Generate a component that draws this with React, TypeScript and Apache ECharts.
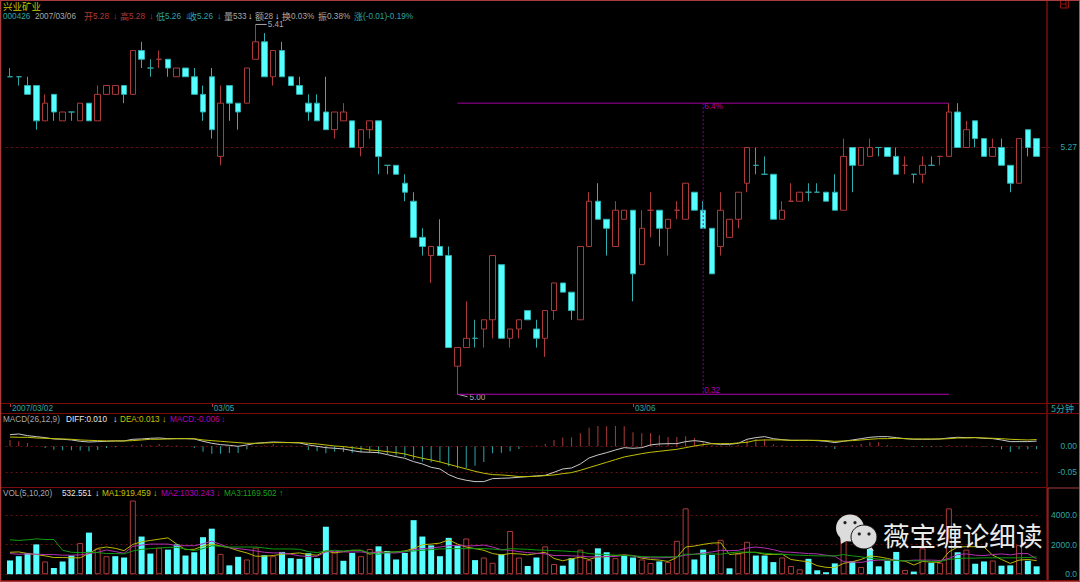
import React, { useEffect, useRef } from "react";
import * as echarts from "echarts";

const opens = [
  5.35,5.35,5.34,5.34,5.30,5.33,5.30,5.31,5.30,5.32,
  5.30,5.33,5.33,5.34,5.33,5.38,5.36,5.37,5.37,5.35,
  5.36,5.35,5.33,5.35,5.26,5.34,5.32,5.32,5.37,5.39,
  5.35,5.38,5.35,5.34,5.32,5.32,5.31,5.29,5.30,5.30,
  5.27,5.29,5.30,5.25,5.25,5.23,5.21,5.17,5.15,5.16,
  5.15,5.03,5.05,5.06,5.07,5.08,5.14,5.06,5.07,5.09,
  5.07,5.06,5.09,5.12,5.11,5.08,5.16,5.21,5.19,5.16,
  5.19,5.20,5.14,5.20,5.20,5.18,5.20,5.19,5.22,5.20,
  5.18,5.16,5.17,5.19,5.23,5.25,5.24,5.24,5.19,5.21,
  5.21,5.22,5.22,5.22,5.22,5.20,5.27,5.25,5.26,5.27,
  5.27,5.26,5.25,5.24,5.24,5.25,5.26,5.26,5.31,5.27,
  5.30,5.28,5.26,5.27,5.25,5.23,5.29,5.28,
];
const closes = [
  5.35,5.35,5.33,5.30,5.32,5.31,5.31,5.31,5.32,5.30,
  5.33,5.34,5.34,5.33,5.38,5.37,5.36,5.37,5.36,5.36,
  5.35,5.33,5.31,5.29,5.32,5.32,5.31,5.36,5.39,5.35,
  5.38,5.35,5.34,5.33,5.31,5.30,5.29,5.31,5.31,5.27,
  5.29,5.30,5.26,5.25,5.24,5.22,5.17,5.16,5.16,5.15,
  5.05,5.05,5.06,5.06,5.08,5.15,5.06,5.07,5.08,5.08,
  5.06,5.09,5.12,5.11,5.09,5.16,5.21,5.19,5.18,5.20,
  5.20,5.13,5.18,5.20,5.18,5.19,5.20,5.23,5.20,5.18,
  5.13,5.20,5.19,5.22,5.27,5.25,5.24,5.19,5.20,5.21,
  5.22,5.22,5.22,5.21,5.20,5.26,5.25,5.27,5.27,5.27,
  5.26,5.24,5.25,5.24,5.25,5.25,5.26,5.31,5.27,5.29,
  5.28,5.26,5.27,5.25,5.23,5.28,5.27,5.26,
];
const lows = [
  5.35,5.34,5.33,5.29,5.30,5.30,5.30,5.30,5.30,5.30,
  5.30,5.33,5.33,5.32,5.33,5.36,5.35,5.36,5.35,5.35,
  5.35,5.33,5.30,5.28,5.25,5.30,5.29,5.32,5.37,5.35,
  5.34,5.35,5.34,5.33,5.30,5.30,5.29,5.28,5.30,5.27,
  5.26,5.28,5.24,5.24,5.24,5.21,5.17,5.15,5.12,5.15,
  5.05,5.00,5.05,5.05,5.05,5.06,5.06,5.05,5.06,5.08,
  5.05,5.04,5.08,5.11,5.08,5.08,5.16,5.19,5.15,5.16,
  5.19,5.10,5.14,5.17,5.16,5.15,5.19,5.19,5.20,5.18,
  5.13,5.15,5.17,5.18,5.22,5.24,5.24,5.19,5.19,5.21,
  5.21,5.21,5.22,5.21,5.20,5.20,5.22,5.25,5.26,5.26,
  5.26,5.24,5.24,5.23,5.23,5.25,5.25,5.26,5.27,5.27,
  5.27,5.26,5.26,5.25,5.22,5.23,5.26,5.26,
];
const highs = [
  5.36,5.35,5.35,5.34,5.33,5.33,5.31,5.31,5.32,5.32,
  5.34,5.34,5.34,5.34,5.38,5.39,5.37,5.38,5.37,5.36,
  5.36,5.36,5.34,5.36,5.34,5.34,5.32,5.36,5.41,5.40,
  5.38,5.39,5.35,5.35,5.33,5.33,5.35,5.31,5.32,5.30,
  5.29,5.30,5.30,5.25,5.25,5.24,5.22,5.18,5.16,5.19,
  5.16,5.05,5.10,5.08,5.08,5.15,5.14,5.07,5.08,5.09,
  5.08,5.09,5.12,5.12,5.11,5.16,5.22,5.23,5.19,5.21,
  5.20,5.20,5.20,5.22,5.20,5.19,5.21,5.23,5.22,5.21,
  5.18,5.22,5.19,5.22,5.27,5.27,5.26,5.24,5.21,5.23,
  5.22,5.23,5.23,5.22,5.24,5.28,5.27,5.27,5.28,5.27,
  5.27,5.27,5.26,5.24,5.26,5.26,5.26,5.32,5.32,5.30,
  5.30,5.28,5.28,5.28,5.25,5.28,5.29,5.28,
];
const redDojis = [17, 73, 76, 89, 102, 106];

const dateTickIndex = [0, 23, 71];
const dateTickLabels = ["2007/03/02", "03/05", "03/06"];

const macdBars = [
  .0122,.0096,.0064,.0006,-.0032,-.0064,-.0077,-.0077,-.0083,-.0096,
  -.0071,-.0032,-.0019,-.0006,.0019,.0038,.0019,.0045,.0019,.0013,
  0,-.0032,-.0103,-.0141,-.0141,-.0128,-.0128,-.0058,-.0006,.0013,
  .0038,.0013,.0013,0,-.0071,-.0096,-.0135,-.0103,-.0109,-.0128,
  -.0115,-.0115,-.0141,-.0154,-.0179,-.0205,-.0256,-.0295,-.0308,-.0301,
  -.0385,-.0423,-.0417,-.0372,-.0301,-.0135,-.0122,-.0096,-.0051,0,
  .0013,.0045,.0122,.0167,.0167,.0250,.0359,.0391,.0385,.0391,
  .0385,.0269,.0250,.0250,.0212,.0179,.0179,.0192,.0160,.0083,
  .0019,.0013,.0019,.0019,.0115,.0141,.0135,.0038,.0019,.0006,
  0,0,-.0006,-.0019,-.0051,.0006,.0019,.0045,.0077,.0077,
  .0019,.0006,0,-.0013,-.0013,-.0013,-.0013,.0019,.0006,.0013,
  0,-.0013,-.0013,-.0058,-.0109,-.0058,-.0058,-.0058,
];
const diffLine = [
  .0224,.0237,.0205,.0186,.0167,.0141,.0135,.0122,.0096,.0083,
  .0090,.0096,.0103,.0103,.0135,.0141,.0154,.0160,.0147,.0147,
  .0147,.0141,.0096,.0058,.0032,.0019,0,.0026,.0058,.0071,
  .0083,.0077,.0071,.0064,.0026,0,-.0026,-.0038,-.0051,-.0083,
  -.0109,-.0115,-.0122,-.0160,-.0199,-.0231,-.0295,-.0340,-.0404,-.0436,
  -.0545,-.0615,-.0654,-.0679,-.0679,-.0622,-.0615,-.0609,-.0596,-.0583,
  -.0570,-.0558,-.0500,-.0436,-.0417,-.0340,-.0224,-.0167,-.0122,-.0071,
  -.0026,-.0038,-.0026,.0026,.0045,.0051,.0051,.0090,.0109,.0090,
  .0051,.0038,.0038,.0058,.0135,.0167,.0186,.0147,.0128,.0115,
  .0115,.0115,.0109,.0096,.0071,.0096,.0122,.0147,.0173,.0186,
  .0186,.0167,.0147,.0135,.0135,.0135,.0141,.0160,.0173,.0167,
  .0167,.0154,.0147,.0122,.0090,.0090,.0090,.0100,
];
const deaLine = [
  .0179,.0173,.0173,.0160,.0154,.0147,.0141,.0135,.0122,.0115,
  .0109,.0103,.0103,.0103,.0109,.0122,.0135,.0135,.0141,.0147,
  .0147,.0147,.0122,.0109,.0096,.0083,.0071,.0058,.0058,.0064,
  .0071,.0071,.0071,.0071,.0058,.0045,.0026,.0006,-.0006,-.0026,
  -.0045,-.0071,-.0083,-.0103,-.0122,-.0147,-.0192,-.0231,-.0263,-.0301,
  -.0346,-.0391,-.0436,-.0481,-.0519,-.0545,-.0551,-.0564,-.0583,-.0583,
  -.0577,-.0564,-.0551,-.0526,-.0506,-.0462,-.0410,-.0359,-.0308,-.0256,
  -.0205,-.0173,-.0141,-.0115,-.0096,-.0077,-.0058,-.0026,.0006,.0032,
  .0051,.0051,.0051,.0064,.0077,.0115,.0122,.0122,.0122,.0115,
  .0115,.0115,.0115,.0109,.0096,.0103,.0109,.0122,.0135,.0147,
  .0147,.0154,.0147,.0141,.0141,.0141,.0141,.0147,.0160,.0160,
  .0167,.0160,.0154,.0147,.0135,.0128,.0122,.0130,
];

const volumes = [
  932,1221,1443,2020,866,422,866,1265,2109,2819,
  1732,1221,1221,1132,4995,2553,1399,1798,1665,2020,
  1265,1487,2509,3086,1376,599,1177,999,1798,1288,
  1221,1510,1088,1043,1421,1088,3219,1487,910,1443,
  1221,1709,1887,1576,999,1443,3663,2553,1954,1221,
  2464,1909,2420,955,1132,777,1354,2930,1132,555,
  1132,1887,688,577,1088,1665,955,1754,1487,1088,
  1288,1132,999,755,866,821,2264,4462,999,1665,
  1310,2331,400,1399,2198,1265,1265,821,1132,555,
  333,1043,266,133,733,2287,866,488,1709,533,
  910,1510,289,178,1754,777,777,4462,1487,1665,
  710,866,932,577,599,1976,910,533,
];
const redVolumes = [
  4,8,10,11,14,17,24,27,28,30,37,40,41,52,54,55,57,58,61,62,
  65,66,69,72,73,75,76,77,81,83,84,88,89,90,95,97,102,104,106,107,109,112,115,
];
const volMa1 = [
  1487,1510,1399,1332,1243,1132,1132,1110,1110,1399,
  1754,1843,1754,1598,2020,2198,2287,2375,2464,2042,
  1665,1687,1909,2042,1909,1798,1598,1443,1221,1221,
  1265,1354,1399,1443,1332,1288,1576,1443,1532,1621,
  1621,1354,1510,1487,1510,1576,1732,1998,2042,2109,
  2331,2042,1843,1732,1621,1399,1310,1399,1376,1310,
  1399,1487,1066,910,1043,1154,999,1177,1177,1265,
  1310,1265,1088,999,955,866,1132,1843,1909,2020,
  2109,2131,1332,1399,1487,1487,1354,1332,1354,999,
  910,844,577,466,444,733,844,999,1243,1177,
  1066,932,888,622,866,821,799,1510,1843,1865,
  1865,1843,1288,999,733,955,999,919.5,
];
const volMa2 = [
  1399,1354,1376,1354,1332,1332,1288,1288,1310,1399,
  1487,1643,1532,1421,1887,1976,2042,2042,2042,1931,
  1931,1931,2065,2242,2020,1798,1732,1665,1576,1487,
  1443,1443,1354,1243,1199,1221,1510,1554,1510,1510,
  1510,1443,1510,1443,1443,1510,1665,1732,1776,1843,
  1931,1954,1909,1931,1976,1843,1665,1621,1532,1465,
  1421,1376,1265,1265,1243,1221,1177,1177,1199,1199,
  1288,1243,1154,1110,1110,1132,1177,1288,1354,1443,
  1510,1621,1598,1621,1776,1843,1776,1665,1510,1487,
  1443,1399,1376,1288,1221,844,821,799,910,955,
  955,955,910,955,955,955,932,1066,1332,1376,
  1288,1265,1332,1376,1310,1399,1399,1030,
];
const volMa3 = [
  2331,2287,2331,2398,2353,2353,1621,1487,1465,1487,
  1465,1399,1399,1376,1576,1687,1732,1776,1820,1820,
  1709,1598,1732,1931,1887,1843,1843,1843,1843,1776,
  1709,1709,1709,1687,1532,1465,1576,1621,1576,1621,
  1621,1443,1354,1487,1510,1554,1576,1621,1665,1709,
  1732,1732,1732,1732,1732,1709,1643,1732,1709,1687,
  1643,1621,1598,1576,1532,1510,1399,1354,1332,1288,
  1265,1243,1199,1177,1177,1177,1177,1354,1354,1354,
  1376,1354,1443,1510,1487,1465,1421,1376,1354,1310,
  1288,1265,1243,1243,1243,1332,1243,1177,1088,1021,
  955,932,910,910,910,866,866,999,1066,1088,
  1088,1110,1110,1110,1110,1110,1132,1169.5,
];

const highNote = { index: 28, price: 5.41, text: "5.41" };
const lowNote = { index: 51, price: 5.0, text: "5.00" };
const measureFrom = 51;
const measureTo = 107;
const measureTop = 5.32;
const measureBottom = 5.0;
const measurePct = "6.4%";
const measureDiff = "0.32";
const lastPrice = 5.27;
const macdTicks = [-0.05, 0];
const lastPriceLabel = "5.27";

const RED = "#ad3a3a";
const CYAN = "#55ffff";
const CYAN_EDGE = "#2fb0b0";
const TEAL = "#2fa5a5";
const GRAY = "#a8a8a8";
const WHITE = "#e8e8e8";
const YEL = "#c4c400";
const MAG = "#b400b4";
const GRN = "#18a018";
const FRAME = "#7c0c0c";
const EDGE = "#a83c3c";
const LATIN = '"Liberation Sans", sans-serif';
const CJK = '"Noto Sans CJK SC", sans-serif';

type T = [string, number, number, string, number?, string?];
const headerTexts: T[] = [
  ["兴业矿业", 3, 5.5, YEL, 9.5, CJK],
  ["000426", 3, 16, TEAL], ["2007/03/06", 35, 16, GRAY],
  ["开", 84, 16, RED, 9, CJK], ["5.28", 93, 16, RED], ["↓", 113, 16, RED, 9],
  ["高", 120, 16, RED, 9, CJK], ["5.28", 129, 16, RED], ["↓", 149, 16, RED, 9],
  ["低", 156, 16, TEAL, 9, CJK], ["5.26", 165, 16, TEAL], ["↓", 185, 16, TEAL, 9],
  ["收", 188, 16, TEAL, 9, CJK], ["5.26", 197, 16, TEAL], ["↓", 217, 16, TEAL, 9],
  ["量", 224, 16, GRAY, 9, CJK], ["533", 233, 16, GRAY], ["↓", 248, 16, WHITE, 9],
  ["额", 255, 16, GRAY, 9, CJK], ["28", 264, 16, GRAY], ["↓", 275, 16, WHITE, 9],
  ["换", 282, 16, GRAY, 9, CJK], ["0.03%", 291, 16, GRAY],
  ["振", 318, 16, GRAY, 9, CJK], ["0.38%", 327, 16, GRAY],
  ["涨", 354, 16, TEAL, 9, CJK], ["(-0.01)-0.19%", 363, 16, TEAL],
  ["MACD(26,12,9)", 3, 419, GRAY], ["DIFF:0.010", 66, 419, WHITE], ["↓", 113, 419, WHITE, 9],
  ["DEA:0.013", 120, 419, YEL], ["↓", 162, 419, YEL, 9],
  ["MACD:-0.006", 170, 419, MAG], ["↓", 221, 419, MAG, 9],
  ["VOL(5,10,20)", 3, 493, GRAY], ["532.551", 62, 493, WHITE], ["↓", 95, 493, WHITE, 9],
  ["MA1:919.459", 102, 493, YEL], ["↓", 153, 493, YEL, 9],
  ["MA2:1030.243", 161, 493, MAG], ["↓", 216, 493, MAG, 9],
  ["MA3:1169.502", 224, 493, GRN], ["↑", 279, 493, GRN, 9],
  ["5分钟", 1051, 408.5, TEAL, 9, CJK],
];

const frameLines: [number, number, number, number, string, number][] = [
  [0, 403.5, 1079, 403.5, FRAME, 1],
  [0, 413.5, 1079, 413.5, FRAME, 1],
  [0, 487.5, 1047, 487.5, FRAME, 1],
  [1047, 0, 1047, 581, FRAME, 1.5],
  [1041, 147.5, 1050, 147.5, "#5a1010", 1],
  [1048, 488, 1079, 488, EDGE, 1],
  [1048, 488, 1048, 580, EDGE, 1],
  [0, 580.5, 1079, 580.5, FRAME, 1],
  [0.5, 0, 0.5, 582, EDGE, 1.5],
  [0, 0.5, 1080, 0.5, EDGE, 1],
  [1079.5, 0, 1079.5, 582, "#c05050", 1],
  [0, 581.5, 1080, 581.5, EDGE, 1],
  [1060.5, 1, 1060.5, 8, "#901010", 1],
  [1068.5, 1, 1068.5, 8, "#901010", 1],
  [1060.5, 8, 1068.5, 8, "#901010", 1],
  [1060.5, 4, 1066, 4, "#901010", 1],
  [1066, 1, 1066, 8, "#901010", 1],
];

function buildGraphic() {
  const els: any[] = [];
  frameLines.forEach(([x1, y1, x2, y2, c, w]) =>
    els.push({ type: "line", silent: true, z: 1, shape: { x1, y1, x2, y2 }, style: { stroke: c, lineWidth: w } })
  );
  headerTexts.forEach(([text, x, y, fill, size, fam]) =>
    els.push({
      type: "text", silent: true, z: 10, x, y,
      style: { text, fill, font: `${size ?? 8.2}px ${fam ?? LATIN}`, verticalAlign: "middle", align: "left" },
    })
  );
  const icon = "#dcdcdc";
  els.push({ type: "polygon", z: 100, shape: { points: [[840, 536], [848, 540], [841, 544]] }, style: { fill: icon } });
  els.push({ type: "ellipse", z: 100, shape: { cx: 850, cy: 528, rx: 14, ry: 13.5 }, style: { fill: icon } });
  els.push({ type: "polygon", z: 101, shape: { points: [[870, 545], [874, 551], [864, 548]] }, style: { fill: icon } });
  els.push({ type: "ellipse", z: 101, shape: { cx: 864, cy: 537, rx: 13, ry: 12 }, style: { fill: icon, stroke: "#111", lineWidth: 1 } });
  [[845, 522.7], [855, 522.7], [859.3, 534], [869, 534]].forEach(([cx, cy]) =>
    els.push({ type: "circle", z: 102, shape: { cx, cy, r: 1.6 }, style: { fill: "#222" } })
  );
  els.push({
    type: "text", z: 102, x: 883, y: 534,
    style: { text: "薇宝缠论细读", fill: "#ececec", font: `26.6px ${CJK}`, verticalAlign: "middle", align: "left" },
  });
  return els;
}

export default function App() {
  const ref = useRef<HTMLDivElement>(null);
  useEffect(() => {
    document.body.style.margin = "0";
    document.body.style.background = "#000";
    const chart = echarts.init(ref.current!, undefined, { renderer: "svg" });
    const categories = opens.map((_, i) => i);

    const candleData = opens.map((o, i) => {
      const value = [o, closes[i], lows[i], highs[i]];
      if (o === closes[i]) {
        const c = redDojis.includes(i) ? RED : TEAL;
        return { value, itemStyle: { color: c, color0: c, borderColor: c, borderColor0: c } };
      }
      return { value };
    });
    const volData = volumes.map((v, i) =>
      redVolumes.includes(i)
        ? { value: v, itemStyle: { color: "#000", borderColor: RED, borderWidth: 1 } }
        : { value: v, itemStyle: { color: CYAN } }
    );
    const macdData = macdBars.map((v) => ({ value: v, itemStyle: { color: v >= 0 ? RED : TEAL } }));

    const lineSeries = (name: string, data: number[], color: string, x: number) => ({
      name, type: "line", data, xAxisIndex: x, yAxisIndex: x, showSymbol: false, symbol: "none", silent: true,
      lineStyle: { color, width: 1 }, z: 5,
    });

    chart.setOption({
      animation: false,
      backgroundColor: "#000",
      graphic: buildGraphic(),
      grid: [
        { left: 5.6, width: 1035.5, top: 1, height: 402 },
        { left: 5.6, width: 1035.5, top: 413.5, height: 73.5 },
        { left: 5.6, width: 1035.5, top: 487, height: 87.2 },
      ],
      xAxis: [
        {
          gridIndex: 0, type: "category", data: categories, boundaryGap: true,
          axisLine: { show: false },
          axisTick: { show: true, alignWithLabel: true, length: 4, lineStyle: { color: RED }, interval: (i: number) => dateTickIndex.includes(i) },
          axisLabel: {
            interval: (i: number) => dateTickIndex.includes(i),
            formatter: (_: string, i: number) => dateTickLabels[dateTickIndex.indexOf(i)] ?? "",
            color: TEAL, fontFamily: LATIN, fontSize: 8.2, align: "left", margin: 1.5, padding: [0, 0, 0, 2], hideOverlap: false,
          },
        },
        { gridIndex: 1, type: "category", data: categories, show: false },
        { gridIndex: 2, type: "category", data: categories, show: false },
      ],
      yAxis: [
        {
          gridIndex: 0, type: "log", logBase: 10, min: 4.9907, max: 5.4371, position: "right",
          axisLine: { show: false },
          axisTick: { show: false, customValues: [lastPrice] },
          splitLine: { show: true, lineStyle: { color: "#5a1010", type: [3, 2], width: 1 } },
          axisLabel: {
            customValues: [lastPrice], formatter: () => lastPriceLabel,
            color: TEAL, fontFamily: LATIN, fontSize: 8.5, align: "right", margin: 36,
          },
        },
        {
          gridIndex: 1, type: "value", min: -0.0783, max: 0.0631, position: "right",
          axisLine: { show: false },
          axisTick: { show: false, customValues: macdTicks },
          splitLine: { show: true, lineStyle: { color: "#6a1010", type: [2, 3], width: 1 } },
          axisLabel: {
            customValues: macdTicks, formatter: (v: number) => v.toFixed(2),
            color: TEAL, fontFamily: LATIN, fontSize: 8.5, align: "right", margin: 36,
          },
        },
        {
          gridIndex: 2, type: "value", min: 0, max: 5912, interval: 2000, position: "right",
          axisLine: { show: false }, axisTick: { show: false },
          splitLine: { show: true, showMaxLine: false, lineStyle: { color: "#6a1010", type: [2, 3], width: 1 } },
          axisLabel: {
            showMaxLabel: false,
            formatter: (v: number) => v.toFixed(1),
            color: TEAL, fontFamily: LATIN, fontSize: 8.5, align: "right", margin: 36,
          },
        },
      ],
      series: [
        {
          name: "K", type: "candlestick", xAxisIndex: 0, yAxisIndex: 0, data: candleData, barWidth: 6, silent: true,
          itemStyle: { color: "#000", color0: CYAN, borderColor: RED, borderColor0: CYAN_EDGE, borderWidth: 1 },
        },
        {
          name: "annot", type: "custom", xAxisIndex: 0, yAxisIndex: 0, silent: true, clip: false, z: 6,
          data: [[0]],
          encode: { x: 0 },
          renderItem: (_: any, api: any) => {
            const P = (i: number, p: number) => api.coord([i, p]);
            const ln = (a: number[], b: number[], c: string, dash?: number[]) => ({
              type: "line", shape: { x1: a[0], y1: a[1], x2: b[0], y2: b[1] },
              style: { stroke: c, lineWidth: 1, lineDash: dash },
            });
            const tx = (text: string, a: number[], dx: number, dy: number, fill: string) => ({
              type: "text", x: a[0] + dx, y: a[1] + dy,
              style: { text, fill, font: `8.2px ${LATIN}`, verticalAlign: "middle", align: "left" },
            });
            const hi = P(highNote.index, highNote.price);
            const lo = P(lowNote.index, lowNote.price);
            const tl = P(measureFrom, measureTop);
            const tr = P(measureTo, measureTop);
            const bl = P(measureFrom, measureBottom);
            const br = P(measureTo, measureBottom);
            const midIdx = (measureFrom + measureTo) / 2;
            const mt = P(midIdx, measureTop);
            const mb = P(midIdx, measureBottom);
            return {
              type: "group",
              children: [
                ln(hi, [hi[0] + 11, hi[1]], GRAY),
                tx(highNote.text, hi, 12, 0, GRAY),
                ln(lo, [lo[0] + 10, lo[1] + 2.5], GRAY),
                tx(lowNote.text, lo, 12, 3, GRAY),
                ln(tl, tr, "#a000a0"),
                ln(bl, br, "#b000b0"),
                ln(mt, mb, "#80008a", [2, 2]),
                tx(measurePct, mt, 1, 3.5, "#b000b0"),
                tx(measureDiff, mb, 1, -4, "#b000b0"),
              ],
            };
          },
        },
        {
          name: "MACD", type: "bar", xAxisIndex: 1, yAxisIndex: 1, data: macdData, barWidth: 1, silent: true,
        },
        lineSeries("DIFF", diffLine, "#c8c8c8", 1),
        lineSeries("DEA", deaLine, "#c0c000", 1),
        {
          name: "VOL", type: "bar", xAxisIndex: 2, yAxisIndex: 2, data: volData, barWidth: 6, silent: true,
        },
        lineSeries("MA1", volMa1, "#b8b800", 2),
        lineSeries("MA2", volMa2, "#b030b0", 2),
        lineSeries("MA3", volMa3, "#109a10", 2),
      ],
    });
    return () => chart.dispose();
  }, []);
  return <div ref={ref} style={{ width: 1080, height: 582 }} />;
}
